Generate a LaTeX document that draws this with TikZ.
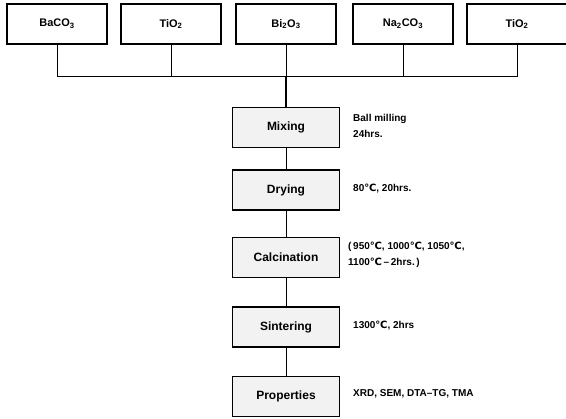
\documentclass[tikz,border=0pt]{standalone}
\usepackage{fontspec}
\setmainfont{Liberation Sans}
\newfontfamily\symfont{DejaVu Sans}
\newcommand{\degc}{{\symfont\char"2103}}
\begin{document}
\begin{tikzpicture}[x=1pt,y=-1pt,
  raw/.style={draw=black, line width=1.1pt, fill=white, minimum width=100pt, minimum height=40pt, inner sep=0pt, font=\fontsize{11}{12}\selectfont\bfseries},
  proc/.style={draw=black, line width=1.1pt, fill=gray!10, minimum width=107pt, minimum height=40pt, inner sep=0pt, font=\fontsize{12}{13}\selectfont\bfseries},
  note/.style={anchor=west, align=left, inner sep=0pt, font=\fontsize{10}{16}\selectfont\bfseries},
  link/.style={draw=black, line width=0.8pt}]
\useasboundingbox (0,0) rectangle (566,419);
% raw materials
\node[raw] (r1) at (57,24) {BaCO\textsubscript{3}};
\node[raw] (r2) at (171,24) {TiO\textsubscript{2}};
\node[raw] (r3) at (286,24) {Bi\textsubscript{2}O\textsubscript{3}};
\node[raw] (r4) at (403,24) {Na\textsubscript{2}CO\textsubscript{3}};
\node[raw] (r5) at (517,24) {TiO\textsubscript{2}};
% process
\node[proc] (p1) at (286,127.5) {Mixing};
\node[proc] (p2) at (286,190) {Drying};
\node[proc] (p3) at (286,257.5) {Calcination};
\node[proc] (p4) at (286,327) {Sintering};
\node[proc] (p5) at (286,396.5) {Properties};
% bus
\coordinate (b1) at (57,76);
\coordinate (b5) at (517,76);
\coordinate (bm) at (286,76);
\draw[link] (r1.south) -- (b1) -- (b5) -- (r5.south);
\draw[link] (r2.south) -- (r2.south |- b1);
\draw[link] (r3.south) -- (bm);
\draw[link] (r4.south) -- (r4.south |- b1);
\draw[draw=black, line width=1.4pt] (bm) -- (p1.north);
\draw[link] (p1) -- (p2);
\draw[link] (p2) -- (p3);
\draw[link] (p3) -- (p4);
\draw[link] (p4) -- (p5);
% notes
\node[note] (n1) at (353,126) {Ball milling\\24hrs.};
\node[note] (n2) at (353,189) {80\degc, 20hrs.};
\node[note] (n3) at (348,255) {(\,950\degc, 1000\degc, 1050\degc,\\1100\degc\,--\,2hrs.\,)};
\node[note] (n4) at (353,326) {1300\degc, 2hrs};
\node[note] (n5) at (353,394) {XRD, SEM, DTA--TG, TMA};
\end{tikzpicture}
\end{document}
